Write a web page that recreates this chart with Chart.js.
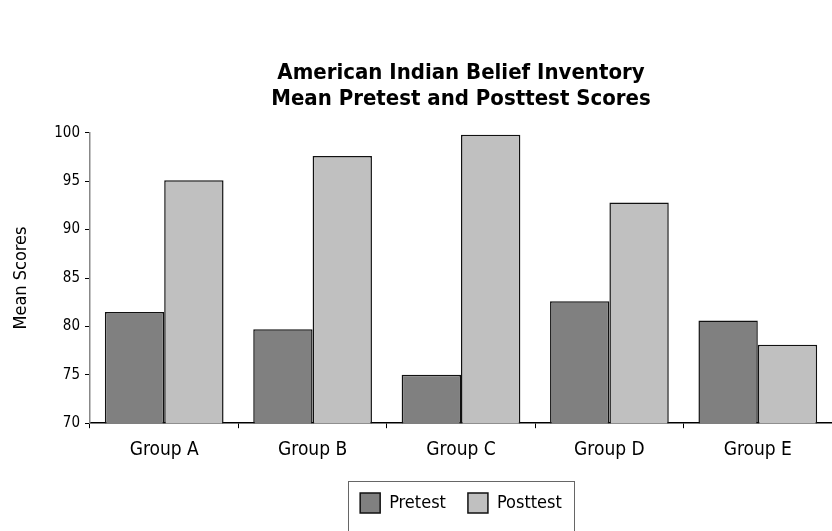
<!DOCTYPE html>
<html>
<head>
<meta charset="utf-8">
<script src="https://cdn.jsdelivr.net/npm/chart.js@4"></script>
<style>
  body { margin: 0; background: #fff; }
  #wrap { width: 832px; height: 531px; }
</style>
</head>
<body>
<div id="wrap"><canvas id="chartBars" width="832" height="531"></canvas></div>
<script>
const groups = ['Group A', 'Group B', 'Group C', 'Group D', 'Group E'];
const pretest = [81.5, 79.7, 75.0, 82.6, 80.6];
const posttest = [95.1, 97.6, 99.8, 92.8, 78.1];
const yTicks = [70, 75, 80, 85, 90, 95, 100];

const fontName = '"DejaVu Sans Condensed", "Liberation Sans", Arial, sans-serif';

// box around the legend (runs off the bottom edge, like the original)
const legendBorder = {
  id: 'legendBorder',
  afterDraw(chart) {
    const boxes = chart.legend.legendHitBoxes;
    if (!boxes || !boxes.length) return;
    let l = Infinity, r = -Infinity, t = Infinity;
    boxes.forEach(h => {
      l = Math.min(l, h.left); r = Math.max(r, h.left + h.width);
      t = Math.min(t, h.top);
    });
    const ctx = chart.ctx;
    ctx.save();
    ctx.strokeStyle = '#666';
    ctx.lineWidth = 1;
    ctx.strokeRect(Math.round(l - 12) + 0.5, Math.round(t - 12) + 0.5, Math.round(r - l + 24), chart.height);
    ctx.restore();
  }
};

const ctx = document.getElementById('chartBars').getContext('2d');
new Chart(ctx, {
  type: 'bar',
  data: {
    labels: groups,
    datasets: [{
      label: 'Pretest',
      data: pretest,
      backgroundColor: '#808080',
      borderColor: '#111',
      borderWidth: 1.5,
      borderSkipped: false
    }, {
      label: 'Posttest',
      data: posttest,
      backgroundColor: '#c0c0c0',
      borderColor: '#111',
      borderWidth: 1.5,
      borderSkipped: false
    }]
  },
  options: {
    responsive: false,
    animation: false,
    layout: { padding: { left: 0, right: 0, top: 60, bottom: 8 } },
    plugins: {
      title: {
        display: true,
        fullSize: false,
        text: ['American Indian Belief Inventory', 'Mean Pretest and Posttest Scores'],
        color: '#000',
        font: { family: fontName, size: 22, weight: 'bold', lineHeight: 1.2 },
        padding: { top: 0, bottom: 20 }
      },
      legend: {
        position: 'bottom',
        fullSize: false,
        labels: {
          color: '#000',
          font: { family: fontName, size: 18 },
          boxWidth: 20,
          boxHeight: 20,
          padding: 22
        }
      },
      tooltip: { enabled: false }
    },
    datasets: { bar: { categoryPercentage: 0.8, barPercentage: 1.0 } },
    scales: {
      x: {
        grid: { drawOnChartArea: false, drawTicks: true, tickLength: 5, color: '#000', offset: true },
        border: { color: '#000', width: 1.5 },
        ticks: { color: '#000', font: { family: fontName, size: 19 }, padding: 10 }
      },
      y: {
        min: 70,
        max: 100,
        afterFit: s => { s.width = 90; },
        afterBuildTicks: s => { s.ticks = yTicks.map(v => ({ value: v })); },
        grid: { drawOnChartArea: false, drawTicks: true, tickLength: 5, color: '#000' },
        border: { color: '#888', width: 1.5 },
        ticks: { color: '#000', font: { family: fontName, size: 15 }, padding: 5 },
        title: {
          display: true,
          text: 'Mean Scores',
          color: '#000',
          font: { family: fontName, size: 18 },
          padding: { top: 11, bottom: 0 }
        }
      }
    }
  },
  plugins: [legendBorder]
});
</script>
</body>
</html>
